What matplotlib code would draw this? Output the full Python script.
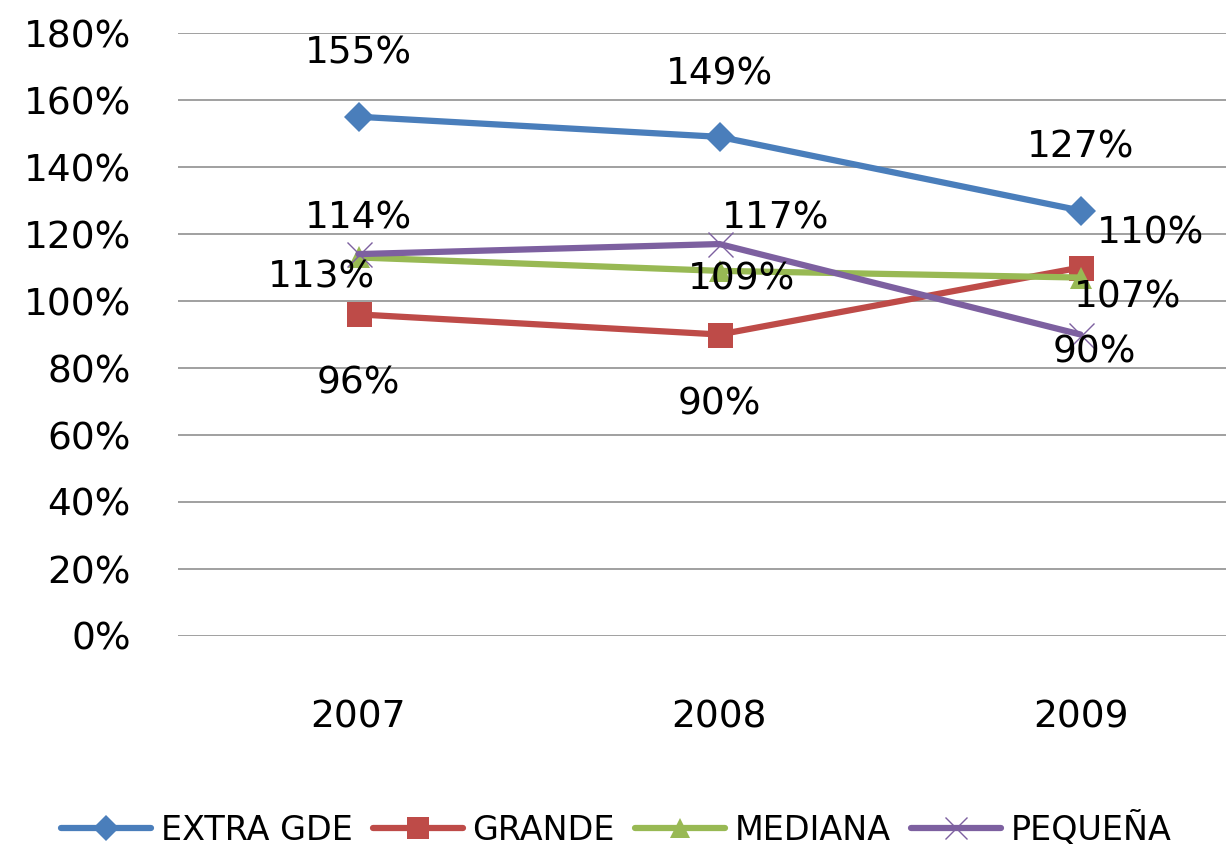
import matplotlib
matplotlib.use("Agg")
import matplotlib.pyplot as plt
from matplotlib.ticker import FuncFormatter

years = ['2007', '2008', '2009']
extra_gde = [155, 149, 127]
grande = [96, 90, 110]
mediana = [113, 109, 107]
pequena = [114, 117, 90]
series_names = ['EXTRA GDE', 'GRANDE', 'MEDIANA', 'PEQUEÑA']

# label offsets in pixels (dx, dy) per point
offsets = {
    'EXTRA GDE': [(0, 63), (0, 62), (0, 63)],
    'GRANDE': [(0, -69), (0, -70), (70, 34)],
    'MEDIANA': [(-37, -20), (22, -9), (47, -20)],
    'PEQUEÑA': [(0, 36), (56, 26), (14, -18)],
}

colors = ['#4A7EBB', '#BE4B48', '#98B954', '#7D60A0']
markers = ['D', 's', '^', 'x']
msizes = [15, 18, 16, 18]

fig = plt.figure(figsize=(12.26, 8.46), dpi=100)
ax = fig.add_axes([178 / 1226, 1 - 636 / 846, 1083 / 1226, 603 / 846])

x = list(range(len(years)))
all_vals = [extra_gde, grande, mediana, pequena]
lines = []
for name, vals, c, m, ms in zip(series_names, all_vals, colors, markers, msizes):
    mew = 1.0 if m == 'x' else 0
    ln, = ax.plot(x, vals, color=c, lw=4.5, marker=m, markersize=ms,
                  markeredgewidth=mew, markeredgecolor=c, label=name,
                  solid_capstyle='round', zorder=3)
    lines.append(ln)
    for xi, v, (dx, dy) in zip(x, vals, offsets[name]):
        ax.annotate(f'{v}%', (xi, v), xytext=(dx, dy), textcoords='offset pixels',
                    ha='center', va='center', fontsize=27, color='black', zorder=5)

ax.set_xlim(-0.5, 2.5)
ax.set_ylim(0, 180)
ax.set_yticks(range(0, 181, 20))
ax.yaxis.set_major_formatter(FuncFormatter(lambda v, _: f'{int(v)}%'))
ax.set_xticks(x)
ax.set_xticklabels(years)
ax.tick_params(axis='both', length=0, labelsize=27)
ax.tick_params(axis='y', pad=34)
ax.tick_params(axis='x', pad=46)
ax.grid(axis='y', color='#868686', linewidth=1.1)
ax.set_axisbelow(True)
for s in ax.spines.values():
    s.set_visible(False)

fig.legend(handles=lines, loc='center left', bbox_to_anchor=(0.025, 0.02), ncol=4,
           frameon=False, prop={'size': 24},
           handlelength=2.7, handletextpad=0.3, columnspacing=0.6, markerscale=0.9)

fig.savefig('out.png', dpi=100)
